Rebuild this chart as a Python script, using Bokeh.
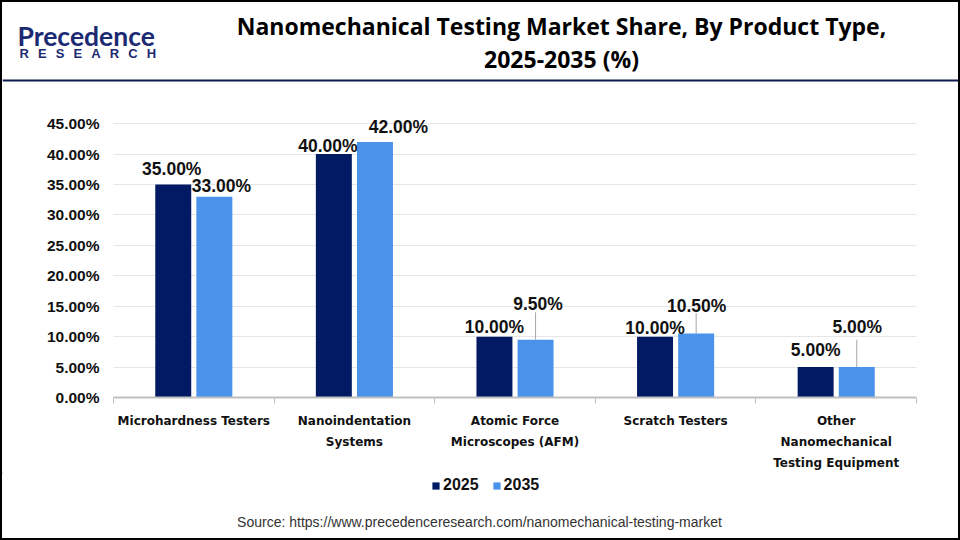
from bokeh.plotting import figure
from bokeh.layouts import column
from bokeh.models import (Range1d, FixedTicker, PrintfTickFormatter, Label,
                          BoxAnnotation, Legend, LegendItem, ColumnDataSource)
from bokeh.core.properties import value
from bokeh.embed import file_html
from bokeh.resources import INLINE

# ---------------- data ----------------
categories = ["Microhardness Testers", "Nanoindentation\nSystems",
              "Atomic Force\nMicroscopes (AFM)", "Scratch Testers",
              "Other\nNanomechanical\nTesting Equipment"]
years = ["2025", "2035"]
share_2025 = [35.0, 40.0, 10.0, 10.0, 5.0]
share_2035 = [33.0, 42.0, 9.5, 10.5, 5.0]
y_ticks = [0, 5, 10, 15, 20, 25, 30, 35, 40, 45]

title_lines = ["Nanomechanical Testing Market Share, By Product Type,", "2025-2035 (%)"]
source_text = "Source: https://www.precedenceresearch.com/nanomechanical-testing-market"

# ---------------- style ----------------
DARK = "#021A64"
LIGHT = "#4A92EA"
NAVY = "#1B2A72"
W = 956                       # inner width (page is 960 with a 2px border)
OX, OY = 2, 2                 # inner origin in page pixels
HEAD_H, CHART_H = 80, 390
FOOT_H = 536 - HEAD_H - CHART_H
CHART_TOP = OY + HEAD_H
FOOT_TOP = CHART_TOP + CHART_H
Y_MAX = 46.5
FRAME_TOP, FRAME_BOT = 114, 404          # page pixels
FRAME_L, FRAME_R = 113, 916
PPU = (FRAME_BOT - FRAME_TOP) / Y_MAX    # pixels per percent unit
BAR_W = 0.224
DODGE = 0.128

# label placement (pixels): horizontal shift, height of label centre above bar top
lab_dx = {"2025": [-1.5, -6, 0, 0, 0], "2035": [7, 23.5, 2.5, 0.5, 0.5]}
lab_dy = {"2025": [15, 8, 10, 9, 17], "2035": [11, 15, 36, 28, 40]}
leader_px = [0, 0, 28, 21, 28]


def blank(h):
    f = figure(width=W, height=h, x_range=Range1d(0, W), y_range=Range1d(h, 0),
               toolbar_location=None, output_backend="svg", x_axis_type=None,
               y_axis_type=None, min_border=0, frame_align=False)
    f.title = None
    f.grid.visible = False
    f.outline_line_color = None
    return f


# ---------------- header ----------------
head = blank(HEAD_H)
for line, mid in zip(title_lines, [25, 58]):
    head.add_layout(Label(x=561 - OX, y=mid - OY, text=line, text_font="Open Sans",
                          text_font_style="bold", text_font_size="23px",
                          text_align="center", text_baseline="middle",
                          text_color="#000000"))
head.add_layout(Label(x=17 - OX, y=35 - OY, text="Precedence", text_font="Lato",
                      text_font_style="bold", text_font_size="26.5px", text_align="left",
                      text_baseline="middle", text_color=NAVY))
head.add_layout(Label(x=19 - OX, y=53 - OY,
                      text="R\u2002\u2009E\u2002\u2009S\u2002\u2009E\u2002\u2009A\u2002\u2009R\u2002\u2009C\u2002\u2009H",
                      text_font="Liberation Sans", text_font_style="bold",
                      text_font_size="13px", text_align="left",
                      text_baseline="middle", text_color=NAVY))
head.add_layout(BoxAnnotation(left=0, right=W, top=HEAD_H - 3, bottom=HEAD_H - 1,
                              fill_color="#0D1B4F", fill_alpha=1, line_color=None))

# ---------------- chart ----------------
p = figure(width=W, height=CHART_H, x_range=Range1d(0, len(categories)),
           y_range=Range1d(0, Y_MAX), toolbar_location=None, output_backend="svg",
           min_border_left=FRAME_L - OX, min_border_right=OX + W - FRAME_R,
           min_border_top=FRAME_TOP - CHART_TOP,
           min_border_bottom=FOOT_TOP - FRAME_BOT, frame_align=False)
p.title = None
p.outline_line_color = None

centers = [i + 0.5 for i in range(len(categories))]
x25 = [c - DODGE for c in centers]
x35 = [c + DODGE for c in centers]

src = ColumnDataSource(dict(x25=x25, x35=x35, v25=share_2025, v35=share_2035,
                            t25=["%.2f%%" % v for v in share_2025],
                            t35=["%.2f%%" % v for v in share_2035],
                            dx25=lab_dx["2025"], dx35=lab_dx["2035"],
                            dy25=[-d for d in lab_dy["2025"]],
                            dy35=[-d for d in lab_dy["2035"]],
                            lead_top=[v + L / PPU for v, L in zip(share_2035, leader_px)]))

p.vbar(x="x25", top="v25", width=BAR_W, source=src, fill_color=DARK, line_color=None)
p.vbar(x="x35", top="v35", width=BAR_W, source=src, fill_color=LIGHT, line_color=None)

p.segment(x0="x35", y0="v35", x1="x35", y1="lead_top", source=src,
          line_color="#A6A6A6", line_width=1)

lab_font = value("Liberation Sans")
for xs, vs, ts, dxs, dys in [("x25", "v25", "t25", "dx25", "dy25"),
                             ("x35", "v35", "t35", "dx35", "dy35")]:
    p.text(x=xs, y=vs, text=ts, x_offset=dxs, y_offset=dys, source=src,
           text_font=lab_font, text_font_style="bold", text_font_size="17.5px",
           text_align="center", text_baseline="middle", text_color="#111111")

p.yaxis.ticker = FixedTicker(ticks=y_ticks)
p.yaxis.formatter = PrintfTickFormatter(format="%.2f%%")
p.yaxis.axis_line_color = None
p.yaxis.major_tick_line_color = None
p.yaxis.minor_tick_line_color = None
p.yaxis.major_tick_out = 0
p.yaxis.major_tick_in = 0
p.yaxis.major_label_standoff = 14
p.yaxis.major_label_text_font = "Liberation Sans"
p.yaxis.major_label_text_font_style = "bold"
p.yaxis.major_label_text_font_size = "15.5px"
p.yaxis.major_label_text_color = "#111111"

p.xaxis.ticker = FixedTicker(ticks=centers, minor_ticks=list(range(len(categories) + 1)))
p.xaxis.major_label_overrides = {c: cat for c, cat in zip(centers, categories)}
p.xaxis.axis_line_color = "#BFBFBF"
p.xaxis.axis_line_width = 2
p.xaxis.major_tick_line_color = None
p.xaxis.major_tick_out = 0
p.xaxis.major_tick_in = 0
p.xaxis.minor_tick_line_color = "#BFBFBF"
p.xaxis.minor_tick_out = 6
p.xaxis.minor_tick_in = 0
p.xaxis.major_label_standoff = 10
p.xaxis.major_label_text_font = "DejaVu Sans"
p.xaxis.major_label_text_font_style = "bold"
p.xaxis.major_label_text_font_size = "12px"
p.xaxis.major_label_text_color = "#111111"
p.xaxis.major_label_text_line_height = 1.5

p.xgrid.grid_line_color = None
p.ygrid.ticker = FixedTicker(ticks=y_ticks)
p.ygrid.grid_line_color = "#E6E6E6"

# ---------------- footer (legend + source) ----------------
foot = blank(FOOT_H)
# legend swatches: off-canvas stand-ins carrying the series colours
g25 = foot.vbar(x=[-100], top=[1], width=1, fill_color=DARK, line_color=None)
g35 = foot.vbar(x=[-100], top=[1], width=1, fill_color=LIGHT, line_color=None)
legend = Legend(items=[LegendItem(label=years[0], renderers=[g25]),
                       LegendItem(label=years[1], renderers=[g35])],
                orientation="horizontal",
                location=(431 - OX, FOOT_H - (494 - FOOT_TOP)),
                glyph_width=9, glyph_height=9, label_standoff=3, spacing=13,
                padding=0, margin=0, border_line_color=None,
                background_fill_alpha=0, label_text_font="Liberation Sans",
                label_text_font_style="bold", label_text_font_size="16px",
                label_height=16, label_text_color="#111111")
foot.add_layout(legend, "center")
foot.add_layout(Label(x=479 - OX, y=521 - FOOT_TOP, text=source_text,
                      text_font="Liberation Sans", text_font_size="14px",
                      text_align="center", text_baseline="middle", text_color="#333333"))

page = column(head, p, foot, spacing=0,
              styles={"border": "2px solid #000000", "background-color": "white"})

open("out.html", "w").write(file_html(page, INLINE))
